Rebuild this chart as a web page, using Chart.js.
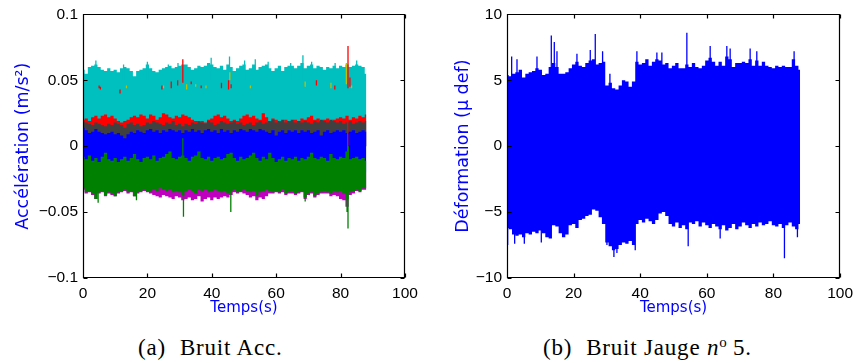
<!DOCTYPE html>
<html>
<head>
<meta charset="utf-8">
<script src="https://cdn.jsdelivr.net/npm/chart.js@4/dist/chart.umd.min.js"></script>
<style>
  html, body { margin: 0; padding: 0; background: #fff; }
  #page { position: relative; width: 859px; height: 363px; overflow: hidden; }
  .plot { position: absolute; top: 0; }
  .caption { position: absolute; top: 336px; font-family: "Liberation Serif", "DejaVu Serif", serif; font-size: 23px;
             line-height: 23px; letter-spacing: 0.8px; white-space: nowrap; color: #000; }
  .caption .lab { margin-right: 14px; }
  .caption .sup { position: relative; top: -8px; font-size: 15px; }
</style>
</head>
<body>
<div id="page">
  <canvas id="acc" class="plot" width="430" height="320" style="left:0"></canvas>
  <canvas id="strain" class="plot" width="429" height="320" style="left:430px"></canvas>
  <div class="caption" style="left:138px"><span class="lab">(a)</span>Bruit Acc.</div>
  <div class="caption" style="left:543px"><span class="lab">(b)</span>Bruit Jauge <i>n</i><span class="sup">o</span>&thinsp;5.</div>
</div>
<script>
// time grid, one sample per second (0 .. 88 s)
const seconds = Array.from({length: 89}, (_, i) => i);

const xTicks = [0, 20, 40, 60, 80, 100];
const xLabels = ['0', '20', '40', '60', '80', '100'];
const accTicks = [-0.1, -0.05, 0, 0.05, 0.1];
const accLabels = ['\u22120.1', '\u22120.05', '0', '0.05', '0.1'];
const strainTicks = [-10, -5, 0, 5, 10];
const strainLabels = ['\u221210', '\u22125', '0', '5', '10'];

// --- (a) accelerometer noise, envelopes ---
const cyanTop = [0.058,0.055,0.060,0.061,0.062,0.060,0.058,0.057,0.059,0.057,
  0.058,0.056,0.059,0.060,0.059,0.057,0.053,0.057,0.058,0.059,
  0.062,0.059,0.057,0.056,0.058,0.059,0.060,0.061,0.059,0.060,
  0.061,0.062,0.062,0.060,0.058,0.059,0.061,0.060,0.061,0.063,
  0.062,0.060,0.059,0.061,0.058,0.062,0.060,0.057,0.059,0.061,
  0.062,0.058,0.059,0.062,0.058,0.060,0.061,0.062,0.059,0.057,
  0.059,0.061,0.057,0.060,0.061,0.061,0.059,0.061,0.063,0.059,
  0.061,0.062,0.059,0.061,0.060,0.058,0.060,0.059,0.061,0.059,
  0.061,0.060,0.062,0.060,0.061,0.062,0.061,0.060,0.055];
const redTop = [0.020,0.021,0.019,0.022,0.023,0.021,0.023,0.024,0.022,0.023,
  0.021,0.019,0.018,0.019,0.020,0.022,0.023,0.022,0.024,0.023,
  0.021,0.024,0.023,0.020,0.022,0.025,0.024,0.022,0.021,0.023,
  0.022,0.024,0.023,0.022,0.020,0.019,0.018,0.019,0.018,0.020,
  0.021,0.023,0.024,0.022,0.023,0.021,0.019,0.020,0.019,0.021,
  0.023,0.024,0.022,0.023,0.021,0.020,0.025,0.022,0.019,0.021,
  0.020,0.019,0.018,0.020,0.019,0.018,0.020,0.019,0.021,0.020,
  0.022,0.023,0.020,0.021,0.019,0.020,0.021,0.019,0.020,0.021,
  0.022,0.021,0.023,0.020,0.022,0.021,0.023,0.022,0.024];
const grayTop = [0.019,0.018,0.017,0.016,0.018,0.017,0.016,0.015,0.017,0.016,
  0.018,0.017,0.016,0.014,0.017,0.018,0.016,0.017,0.015,0.016,
  0.018,0.017,0.019,0.018,0.017,0.016,0.018,0.017,0.019,0.016,
  0.017,0.015,0.017,0.016,0.018,0.017,0.019,0.018,0.017,0.019,
  0.018,0.016,0.017,0.019,0.018,0.017,0.018,0.019,0.017,0.018,
  0.016,0.017,0.018,0.016,0.018,0.019,0.017,0.018,0.019,0.020,
  0.018,0.019,0.020,0.018,0.019,0.020,0.018,0.019,0.018,0.019,
  0.018,0.017,0.019,0.018,0.020,0.019,0.018,0.020,0.019,0.018,
  0.019,0.017,0.018,0.019,0.017,0.018,0.019,0.018,0.019];
const blueTop = [0.014,0.012,0.010,0.011,0.013,0.011,0.010,0.009,0.010,0.011,
  0.009,0.010,0.008,0.006,0.009,0.011,0.010,0.012,0.011,0.010,
  0.012,0.013,0.011,0.012,0.010,0.012,0.011,0.013,0.012,0.011,
  0.012,0.010,0.012,0.011,0.013,0.011,0.012,0.010,0.012,0.013,
  0.011,0.012,0.010,0.013,0.011,0.012,0.010,0.012,0.011,0.013,
  0.012,0.011,0.013,0.012,0.011,0.013,0.012,0.011,0.010,0.012,
  0.008,0.011,0.012,0.010,0.012,0.011,0.012,0.010,0.012,0.011,
  0.012,0.010,0.011,0.012,0.008,0.011,0.012,0.010,0.011,0.012,
  0.011,0.012,0.010,0.011,0.012,0.010,0.011,0.012,0.011];
const greenTop = [-0.008,-0.010,-0.007,-0.011,-0.009,-0.012,-0.008,-0.005,-0.010,-0.011,
  -0.009,-0.012,-0.010,-0.008,-0.011,-0.009,-0.006,-0.010,-0.012,-0.009,
  -0.008,-0.010,-0.007,-0.011,-0.009,-0.008,-0.006,-0.004,-0.009,-0.010,
  -0.008,-0.007,-0.009,-0.011,-0.008,-0.007,-0.004,-0.009,-0.010,-0.008,
  -0.011,-0.009,-0.008,-0.010,-0.009,-0.006,-0.005,-0.009,-0.011,-0.008,
  -0.010,-0.009,-0.007,-0.005,-0.009,-0.011,-0.008,-0.010,-0.005,-0.009,
  -0.012,-0.010,-0.008,-0.011,-0.009,-0.010,-0.008,-0.011,-0.009,-0.010,
  -0.008,-0.005,-0.009,-0.010,-0.008,-0.009,-0.011,-0.006,-0.009,-0.010,
  -0.008,-0.009,-0.004,-0.010,-0.009,-0.008,-0.010,-0.009,-0.011];
const greenBottom = [-0.032,-0.035,-0.034,-0.036,-0.040,-0.035,-0.034,-0.037,-0.035,-0.036,
  -0.038,-0.035,-0.034,-0.033,-0.035,-0.034,-0.038,-0.035,-0.034,-0.033,
  -0.034,-0.035,-0.033,-0.034,-0.032,-0.033,-0.034,-0.033,-0.035,-0.034,
  -0.035,-0.037,-0.034,-0.033,-0.034,-0.036,-0.033,-0.034,-0.033,-0.035,
  -0.034,-0.033,-0.034,-0.035,-0.034,-0.036,-0.034,-0.033,-0.035,-0.034,
  -0.033,-0.034,-0.035,-0.034,-0.038,-0.035,-0.034,-0.033,-0.034,-0.035,
  -0.034,-0.035,-0.033,-0.036,-0.035,-0.034,-0.036,-0.035,-0.034,-0.039,
  -0.036,-0.035,-0.038,-0.036,-0.035,-0.034,-0.035,-0.036,-0.034,-0.035,
  -0.034,-0.036,-0.040,-0.035,-0.034,-0.033,-0.034,-0.032,-0.032];
const magentaBottom = [-0.033,-0.036,-0.035,-0.037,-0.040,-0.036,-0.035,-0.038,-0.036,-0.037,
  -0.038,-0.036,-0.035,-0.034,-0.036,-0.035,-0.038,-0.036,-0.035,-0.034,
  -0.035,-0.036,-0.037,-0.038,-0.039,-0.037,-0.038,-0.039,-0.040,-0.038,
  -0.039,-0.041,-0.040,-0.039,-0.041,-0.040,-0.038,-0.042,-0.040,-0.039,
  -0.041,-0.039,-0.040,-0.039,-0.038,-0.039,-0.037,-0.035,-0.036,-0.035,
  -0.036,-0.037,-0.039,-0.038,-0.041,-0.039,-0.040,-0.038,-0.036,-0.036,
  -0.035,-0.036,-0.035,-0.037,-0.036,-0.036,-0.037,-0.036,-0.035,-0.040,
  -0.037,-0.036,-0.039,-0.037,-0.036,-0.036,-0.036,-0.038,-0.037,-0.038,
  -0.040,-0.041,-0.046,-0.037,-0.036,-0.034,-0.035,-0.033,-0.033];

// isolated spikes: time, low end, high end
const cyanSpikeT  = [4.0, 12.6, 20.0, 26.5, 29.5, 39.8, 45.5, 50.2, 53.5, 57.5, 64.5, 68.3, 71.0, 78.3, 85.0];
const cyanSpikeLo = [0.05, 0.05, 0.05, 0.05, 0.05, 0.05, 0.05, 0.05, 0.05, 0.05, 0.05, 0.05, 0.05, 0.05, 0.05];
const cyanSpikeHi = [0.065, 0.062, 0.064, 0.062, 0.063, 0.067, 0.068, 0.065, 0.066, 0.064, 0.063, 0.069, 0.064, 0.063, 0.065];
const redSpikeT  = [5.0, 5.4, 11.5, 24.5, 27.4, 29.4, 31.0, 33.6, 36.7, 43.0, 45.2, 46.0, 72.5, 78.2, 82.3, 82.9, 82.2];
const redSpikeLo = [0.044, 0.043, 0.040, 0.043, 0.044, 0.046, 0.048, 0.047, 0.044, 0.044, 0.043, 0.044, 0.046, 0.043, 0.044, 0.045, -0.004];
const redSpikeHi = [0.046, 0.045, 0.043, 0.046, 0.049, 0.050, 0.066, 0.049, 0.046, 0.048, 0.050, 0.047, 0.050, 0.046, 0.076, 0.052, 0.020];
const yellowSpikeT  = [13.5, 25.0, 32.2, 35.0, 38.2, 45.6, 52.0, 69.0, 77.0, 81.8, 83.4];
const yellowSpikeLo = [0.044, 0.044, 0.043, 0.045, 0.044, 0.050, 0.044, 0.045, 0.044, 0.047, 0.044];
const yellowSpikeHi = [0.046, 0.046, 0.047, 0.047, 0.046, 0.056, 0.046, 0.049, 0.048, 0.063, 0.046];
const greenSpikeT  = [4.7, 16.6, 31.2, 31.0, 45.9, 69.0, 82.0, 82.3, 82.4];
const greenSpikeLo = [-0.043, -0.041, -0.0535, -0.012, -0.050, -0.042, -0.050, -0.0625, -0.012];
const greenSpikeHi = [-0.030, -0.030, -0.030, 0.006, -0.030, -0.030, -0.030, -0.030, 0.000];

// --- (b) strain gauge no 5 noise (micro strain) ---
const strainTop = [5.4,5.3,5.5,5.6,5.8,5.2,5.5,5.6,5.7,5.9,
  5.8,5.4,5.5,6.0,6.3,6.0,5.5,5.5,5.6,5.9,
  6.2,6.4,6.1,6.0,6.3,6.5,6.6,6.2,6.3,6.4,
  4.6,4.8,4.4,4.3,4.6,5.0,4.9,4.5,4.9,6.4,
  6.2,6.3,6.6,6.1,6.4,6.6,6.5,6.2,6.3,5.9,
  6.1,6.3,5.9,5.9,6.2,6.0,6.3,6.0,5.9,6.1,
  6.5,6.7,6.4,6.1,6.4,6.1,6.8,6.6,6.0,6.3,
  6.3,6.4,6.3,6.6,6.1,6.5,6.1,6.4,6.1,6.0,
  5.9,6.1,6.0,6.1,6.0,6.0,6.6,6.1,5.8];
const strainBottom = [-6.2,-6.3,-6.7,-6.8,-6.7,-6.9,-6.6,-6.7,-6.5,-6.6,
  -6.4,-6.6,-6.9,-7.0,-6.0,-6.1,-6.6,-6.9,-6.7,-6.0,
  -5.9,-6.2,-5.6,-5.5,-5.3,-5.2,-4.8,-4.9,-5.4,-5.9,
  -7.3,-7.6,-7.9,-7.8,-7.5,-7.3,-7.4,-7.2,-7.5,-5.9,
  -5.6,-5.8,-5.5,-5.7,-5.9,-5.6,-5.1,-5.0,-5.3,-5.9,
  -6.1,-5.8,-6.2,-6.0,-6.3,-5.8,-5.9,-5.7,-6.1,-5.8,
  -6.0,-6.2,-5.9,-6.1,-6.3,-6.0,-6.4,-6.2,-5.9,-6.3,
  -6.1,-5.8,-6.0,-6.2,-5.9,-6.1,-5.8,-6.0,-5.9,-5.7,
  -6.0,-6.1,-5.9,-6.2,-6.0,-5.8,-6.1,-6.3,-5.9];
const strainSpikeT  = [1.4, 3.0, 9.0, 13.3, 14.2, 15.0, 21.0, 25.0, 26.5, 28.7, 30.9, 39.0, 45.0, 46.5, 54.0, 61.0, 66.0, 67.0, 73.0, 75.0, 86.2,
                       0.2, 2.3, 5.2, 10.3, 30.0, 32.1, 33.0, 38.5, 54.4, 64.0, 83.3, 87.2];
const strainSpikeV  = [6.8, 6.6, 6.8, 8.4, 7.9, 7.2, 7.0, 7.3, 8.5, 7.2, 5.5, 7.2, 7.1, 7.1, 8.6, 7.6, 7.6, 7.4, 7.4, 7.2, 7.2,
                       -7.5, -7.4, -7.4, -7.3, -7.5, -8.4, -8.1, -7.9, -7.6, -7.0, -8.5, -6.9];

const TICK_FONT = {family: '"Liberation Sans", Roboto, sans-serif', size: 15.5};
const TITLE_FONT = {family: '"DejaVu Sans", sans-serif', size: 17.5};

function series(vals) {
  return vals.map((v, i) => ({x: seconds[i], y: v}));
}
function spikes(ts, los, his) {
  const pts = [];
  ts.forEach((t, i) => {
    pts.push({x: t, y: los[i]}, {x: t, y: his[i]}, {x: t, y: null});
  });
  return pts;
}
function band(vals, color, fill) {
  return {data: series(vals), backgroundColor: color, borderColor: color, borderWidth: 0,
          pointRadius: 0, stepped: 'middle', fill: fill};
}
function spikeSet(pts, color) {
  return {data: pts, borderColor: color, backgroundColor: color, borderWidth: 1.3,
          pointRadius: 0, fill: false, spanGaps: false};
}

// box with inward ticks on all four sides, like the original figure
const framePlugin = {
  id: 'frame',
  afterDatasetsDraw(chart) {
    const {ctx, chartArea: a, scales} = chart;
    const L = Math.round(a.left) + 0.5, R = Math.round(a.right) - 0.5;
    const T = Math.round(a.top) + 0.5, B = Math.round(a.bottom) - 0.5;
    ctx.save();
    ctx.strokeStyle = '#000';
    ctx.lineWidth = 1.2;
    ctx.beginPath();
    ctx.rect(L, T, R - L, B - T);
    scales.x.ticks.forEach(t => {
      const px = Math.round(scales.x.getPixelForValue(t.value)) + 0.5;
      ctx.moveTo(px, B); ctx.lineTo(px, B - 4);
      ctx.moveTo(px, T); ctx.lineTo(px, T + 4);
    });
    scales.y.ticks.forEach(t => {
      const py = Math.round(scales.y.getPixelForValue(t.value)) + 0.5;
      ctx.moveTo(L, py); ctx.lineTo(L + 4, py);
      ctx.moveTo(R, py); ctx.lineTo(R - 4, py);
    });
    ctx.stroke();
    ctx.restore();
  }
};

function makeChart(id, datasets, yRange, yTicks, yLabels, yTitle, yAxisWidth, rightPad, yTitlePad) {
  return new Chart(document.getElementById(id), {
    type: 'line',
    data: {datasets: datasets},
    options: {
      responsive: false,
      animation: false,
      events: [],
      layout: {padding: {top: 11, right: rightPad, left: 0, bottom: 0}},
      plugins: {legend: {display: false}, tooltip: {enabled: false}},
      scales: {
        x: {
          type: 'linear', min: 0, max: 100,
          afterBuildTicks: s => { s.ticks = xTicks.map(v => ({value: v})); },
          afterFit: s => { s.height = 42; },
          grid: {display: false, drawTicks: false},
          border: {display: false},
          ticks: {color: '#000', font: TICK_FONT, padding: 6, maxRotation: 0,
                  callback: v => xLabels[xTicks.indexOf(v)]},
          title: {display: true, text: 'Temps(s)', color: '#0000ff',
                  font: {family: '"DejaVu Sans", sans-serif', size: 15}, padding: {top: 0, bottom: 3}}
        },
        y: {
          type: 'linear', min: yRange[0], max: yRange[1],
          afterBuildTicks: s => { s.ticks = yTicks.map(v => ({value: v})); },
          afterFit: s => { s.width = yAxisWidth; },
          grid: {display: false, drawTicks: false},
          border: {display: false},
          ticks: {color: '#000', font: TICK_FONT, padding: 5,
                  callback: v => yLabels[yTicks.indexOf(v)]},
          title: {display: true, text: yTitle, color: '#0000ff', font: TITLE_FONT,
                  padding: {top: yTitlePad, bottom: 0}}
        }
      }
    },
    plugins: [framePlugin]
  });
}

// datasets listed top-most first (index 0 is drawn last)
makeChart('acc', [
  spikeSet(spikes(greenSpikeT, greenSpikeLo, greenSpikeHi), '#008000'),
  band(greenTop, '#008000', '+1'),
  band(greenBottom, '#008000', false),
  band(magentaBottom, '#bf00bf', {value: -0.02}),
  spikeSet(spikes(redSpikeT, redSpikeLo, redSpikeHi), '#ff0000'),
  spikeSet(spikes(yellowSpikeT, yellowSpikeLo, yellowSpikeHi), '#bfbf00'),
  band(blueTop, '#0000ff', {value: -0.02}),
  band(grayTop, '#404040', {value: 0}),
  band(redTop, '#ff0000', {value: 0}),
  spikeSet(spikes(cyanSpikeT, cyanSpikeLo, cyanSpikeHi), '#00bfbf'),
  band(cyanTop, '#00bfbf', {value: 0})
], [-0.1, 0.1], accTicks, accLabels, 'Accélération (m/s²)', 83, 25, 13);

makeChart('strain', [
  spikeSet(spikes(strainSpikeT, strainSpikeT.map(() => 0), strainSpikeV), '#0000ff'),
  band(strainTop, '#0000ff', '+1'),
  band(strainBottom, '#0000ff', false)
], [-10, 10], strainTicks, strainLabels, 'Déformation (µ def)', 77, 14, 23);
</script>
</body>
</html>
